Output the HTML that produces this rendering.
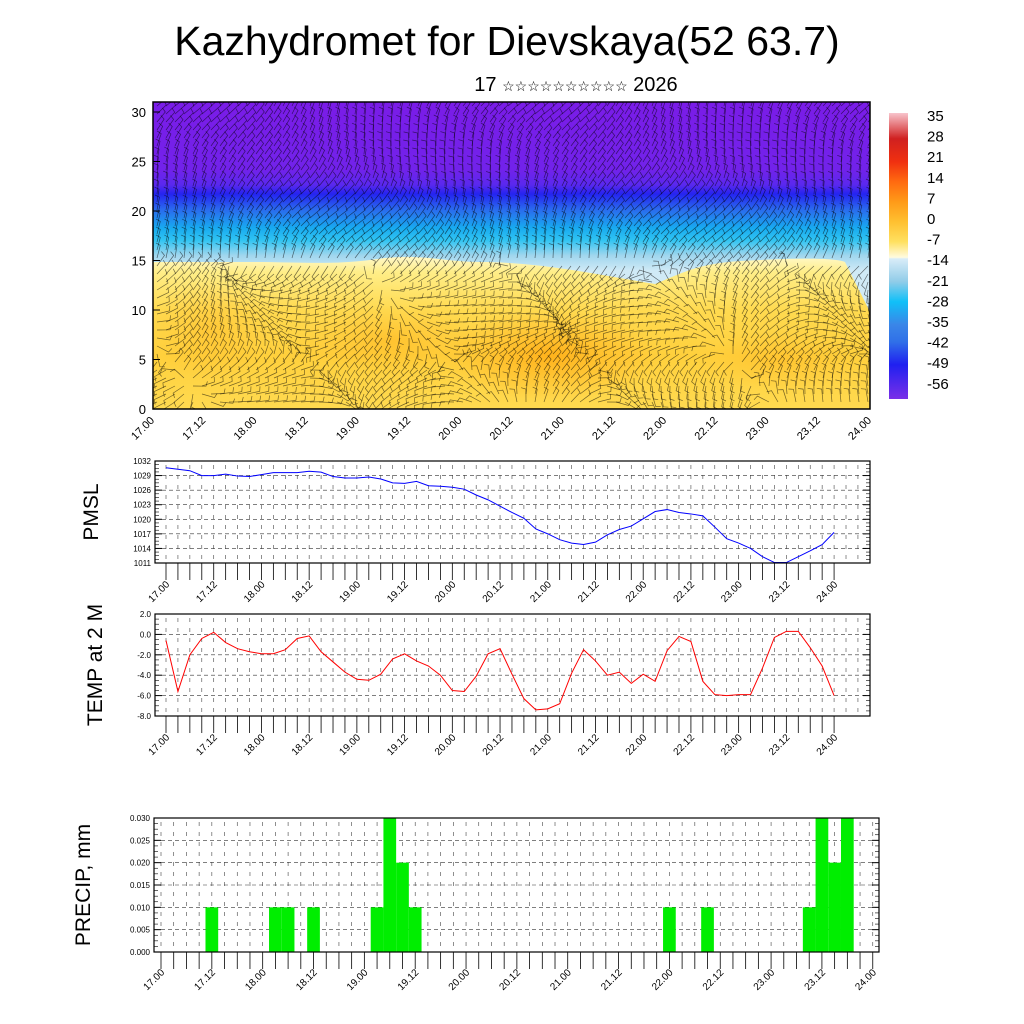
<!DOCTYPE html>
<html><head><meta charset="utf-8"><style>
body{margin:0;background:#fff;}
svg{display:block;font-family:"Liberation Sans",sans-serif;}
</style></head><body>
<svg id="c" width="1024" height="1024" viewBox="0 0 1024 1024">
<defs>
<linearGradient id="gUp" x1="0" y1="0" x2="0" y2="1">
<stop offset="0" stop-color="#7a1ce8"/>
<stop offset="0.22" stop-color="#7222ea"/>
<stop offset="0.27" stop-color="#5a28ee"/>
<stop offset="0.30" stop-color="#2424f0"/>
<stop offset="0.35" stop-color="#2a6aee"/>
<stop offset="0.41" stop-color="#18aaf0"/>
<stop offset="0.45" stop-color="#30c4f2"/>
<stop offset="0.50" stop-color="#a0d6ee"/>
<stop offset="0.55" stop-color="#d0eaf6"/>
<stop offset="1" stop-color="#d0eaf6"/>
</linearGradient>
<linearGradient id="gLo" x1="0" y1="0" x2="0" y2="1">
<stop offset="0" stop-color="#fff8c8"/>
<stop offset="0.1" stop-color="#ffee88"/>
<stop offset="0.35" stop-color="#ffda50"/>
<stop offset="0.65" stop-color="#ffd03c"/>
<stop offset="1" stop-color="#ffda50"/>
</linearGradient>
<radialGradient id="gOr"><stop offset="0" stop-color="#ffa810" stop-opacity="0.75"/><stop offset="1" stop-color="#ffb020" stop-opacity="0"/></radialGradient>
<linearGradient id="gBar" x1="0" y1="0" x2="0" y2="1">
<stop offset="0" stop-color="#f8c4cc"/>
<stop offset="0.09" stop-color="#d02020"/>
<stop offset="0.17" stop-color="#f03010"/>
<stop offset="0.24" stop-color="#ff6a10"/>
<stop offset="0.31" stop-color="#ff9a18"/>
<stop offset="0.38" stop-color="#ffc030"/>
<stop offset="0.45" stop-color="#ffe060"/>
<stop offset="0.505" stop-color="#fffbe0"/>
<stop offset="0.51" stop-color="#d8ecf8"/>
<stop offset="0.59" stop-color="#90cce8"/>
<stop offset="0.66" stop-color="#10c0f8"/>
<stop offset="0.74" stop-color="#3a86e8"/>
<stop offset="0.80" stop-color="#3070e8"/>
<stop offset="0.88" stop-color="#2020f0"/>
<stop offset="1" stop-color="#7a30e8"/>
</linearGradient>
<clipPath id="clipTop"><rect x="153" y="102" width="717" height="307"/></clipPath>
</defs>
<text x="507" y="55" font-size="41" text-anchor="middle">Kazhydromet for Dievskaya(52 63.7)</text>
<text x="576" y="91" font-size="20" text-anchor="middle">17 <tspan font-size="14">☆☆☆☆☆☆☆☆☆☆</tspan> 2026</text>
<g id="top" clip-path="url(#clipTop)">
<rect x="153" y="102" width="717" height="307" fill="url(#gUp)"/>
<path d="M153,262 L250,262 C300,262 330,265 370,260 C420,252 440,262 480,262 C540,262 600,275 655,284 C690,270 700,262 760,260 C800,258 835,258 845,262 L870,312 L870,409 L153,409 Z" fill="url(#gLo)"/>
<ellipse cx="550" cy="355" rx="110" ry="45" fill="url(#gOr)"/>
<ellipse cx="390" cy="340" rx="90" ry="35" fill="url(#gOr)" opacity="0.5"/>
<ellipse cx="210" cy="330" rx="60" ry="50" fill="url(#gOr)" opacity="0.4"/>
<ellipse cx="780" cy="360" rx="80" ry="30" fill="url(#gOr)" opacity="0.4"/>
<g id="barbs" stroke="#000" stroke-opacity="0.55" stroke-width="0.7" fill="none"></g>
</g>
<rect x="153" y="102" width="717" height="307" fill="none" stroke="#000" stroke-width="1.5"/>
<g id="topAxes"></g>
<rect x="889" y="113" width="19" height="286" fill="url(#gBar)"/>
<g id="cbLabels"></g>
<g id="pmsl"></g>
<g id="temp"></g>
<g id="precip"></g>
</svg>
<script>
// ---- data ----
const timeLabels=["17.00","17.12","18.00","18.12","19.00","19.12","20.00","20.12","21.00","21.12","22.00","22.12","23.00","23.12","24.00"];
const pmslTicks=[1011,1014,1017,1020,1023,1026,1029,1032];
const pmslValues=[1030.6,1030.3,1030,1029,1029,1029.3,1028.9,1028.8,1029.2,1029.6,1029.6,1029.6,1029.9,1029.7,1028.8,1028.5,1028.5,1028.7,1028.3,1027.5,1027.4,1027.8,1026.9,1026.8,1026.6,1026.2,1025,1024,1022.7,1021.4,1020.2,1018,1017,1015.8,1015.1,1014.8,1015.3,1016.8,1017.9,1018.6,1020.1,1021.6,1022,1021.4,1021.1,1020.7,1018.4,1016,1015.1,1014,1012.3,1011.1,1011.1,1012.3,1013.5,1014.8,1017.3];
const tempTicks=[-8,-6,-4,-2,0,2];
const tempValues=[-0.6,-5.6,-2,-0.4,0.2,-0.8,-1.4,-1.7,-1.9,-1.9,-1.5,-0.4,-0.15,-1.7,-2.7,-3.7,-4.4,-4.5,-3.9,-2.4,-1.9,-2.6,-3.1,-4.0,-5.5,-5.6,-4.1,-1.9,-1.4,-3.9,-6.3,-7.4,-7.3,-6.8,-3.8,-1.5,-2.6,-4.0,-3.7,-4.8,-3.9,-4.6,-1.6,-0.2,-0.7,-4.6,-5.9,-6.0,-5.9,-5.9,-3.3,-0.3,0.3,0.3,-1.3,-3.1,-6.0];
const precipTicks=[0,0.005,0.010,0.015,0.020,0.025,0.030];
const precipIndex=[4,9,10,12,17,18,19,20,40,43,51,52,53,54];
const precipValues=[0.01,0.01,0.01,0.01,0.01,0.03,0.02,0.01,0.01,0.01,0.01,0.03,0.02,0.03];
const heightTicks=[0,5,10,15,20,25,30];
const colorbarLabels=[35,28,21,14,7,0,-7,-14,-21,-28,-35,-42,-49,-56];

const NS="http://www.w3.org/2000/svg";
function mk(parent,tag,attrs){const e=document.createElementNS(NS,tag);for(const k in attrs)e.setAttribute(k,attrs[k]);parent.appendChild(e);return e;}

// ---- top panel barbs (decorative wind field) ----
const barbs=document.getElementById('barbs');
for(let y=106;y<409;y+=8){for(let x=157;x<870;x+=9){
  const h=(409-y)/9.9;
  let a;
  if(h>15) a=1.15+0.35*Math.sin(x/55+h/4)+0.15*Math.cos(h/2);
  else a=Math.atan2(Math.sin(x/60)*Math.cos(h/3),Math.cos(x/45+h/5))+0.9;
  const L=13,dx=Math.cos(a)*L,dy=Math.sin(a)*L;
  const x2=x+dx,y2=y-dy;
  const p=mk(barbs,'path',{d:`M${x.toFixed(1)},${y.toFixed(1)}L${x2.toFixed(1)},${y2.toFixed(1)}l${(Math.cos(a+1.3)*5).toFixed(1)},${(-Math.sin(a+1.3)*5).toFixed(1)}`});
  
  
}}
// top axes
const ta=document.getElementById('topAxes');
const topX=i=>153+i*(717/14), topY=v=>409-v*9.9;
heightTicks.forEach(v=>{
  mk(ta,'line',{x1:153,x2:160,y1:topY(v),y2:topY(v),stroke:'#000'});
  const t=mk(ta,'text',{x:146,y:topY(v)+5,'font-size':13,'text-anchor':'end'});t.textContent=v;
  
  
});
timeLabels.forEach((s,i)=>{
  const x=topX(i);
  const t=mk(ta,'text',{x:x+2,y:421,'font-size':11,'text-anchor':'end',transform:`rotate(-45 ${x+2} 421)`});t.textContent=s;
  
  
});
const cb=document.getElementById('cbLabels');
colorbarLabels.forEach((v,i)=>{
  const t=mk(cb,'text',{x:927,y:121+i*20.6,'font-size':15});t.textContent=v;
  
  
});

// ---- generic line/bar panel ----
function panel(g,o){
  const {x0,x1,y0,y1,vmin,vmax,ticks,fmt,t0,dt,title,titleX,labY}=o;
  const Y=v=>y1-(v-vmin)/(vmax-vmin)*(y1-y0);
  const X=i=>t0+i*dt;
  for(let i=-1;i*dt+t0<x1;i++){
    const x=X(i); if(x<=x0)continue;
    mk(g,'line',{x1:x,x2:x,y1:y0+4,y2:y1,stroke:'#444','stroke-width':0.6,'stroke-dasharray':'4 6'});
    if(i>=0&&i<=56) mk(g,'line',{x1:x,x2:x,y1:y1,y2:y1+17,stroke:'#000','stroke-width':0.8});
  }
  ticks.forEach(v=>{
    const y=Y(v);
    mk(g,'line',{x1:x0,x2:x1,y1:y,y2:y,stroke:'#333','stroke-width':0.6,'stroke-dasharray':'4 3'});
    mk(g,'line',{x1:x0,x2:x0+7,y1:y,y2:y,stroke:'#000'});
    mk(g,'line',{x1:x1-7,x2:x1,y1:y,y2:y,stroke:'#000'});
    const t=mk(g,'text',{x:x0-4,y:y+3,'font-size':8,'text-anchor':'end'});t.textContent=fmt(v);
    
    
  });
  for(let k=0;k<ticks.length-1;k++){const a=Y(ticks[k]),b=Y(ticks[k+1]);for(let m=1;m<4;m++){const y=a+(b-a)*m/4;
    mk(g,'line',{x1:x0,x2:x0+4,y1:y,y2:y,stroke:'#000','stroke-width':0.6});
    mk(g,'line',{x1:x1-4,x2:x1,y1:y,y2:y,stroke:'#000','stroke-width':0.6});}}
  timeLabels.forEach((s,i)=>{
    const x=X(i*4)+4;
    const t=mk(g,'text',{x:x,y:labY,'font-size':10,'text-anchor':'end',transform:`rotate(-45 ${x} ${labY})`});t.textContent=s;
    
    
  });
  const tt=mk(g,'text',{x:titleX,y:(y0+y1)/2,'font-size':21,'text-anchor':'middle',transform:`rotate(-90 ${titleX} ${(y0+y1)/2})`});tt.textContent=title;
  
  
  return {X,Y};
}
function frame(g,x0,x1,y0,y1){const r=mk(g,'rect',{x:x0,y:y0,width:x1-x0,height:y1-y0,fill:'none',stroke:'#000','stroke-width':1.2});
  
  }

// PMSL
{const g=document.getElementById('pmsl');
 const o={x0:155,x1:870,y0:461,y1:563,vmin:1011,vmax:1032,ticks:pmslTicks,fmt:v=>v,t0:166,dt:11.93,title:'PMSL',titleX:98,labY:585};
 const {X,Y}=panel(g,o);
 const p=mk(g,'polyline',{points:pmslValues.map((v,i)=>X(i)+','+Y(v)).join(' '),fill:'none',stroke:'#0000ff','stroke-width':1});
 
 
 frame(g,155,870,461,563);}
// TEMP
{const g=document.getElementById('temp');
 const o={x0:155,x1:870,y0:614,y1:716,vmin:-8,vmax:2,ticks:tempTicks,fmt:v=>v.toFixed(1),t0:166,dt:11.93,title:'TEMP at 2 M',titleX:102,labY:738};
 const {X,Y}=panel(g,o);
 const p=mk(g,'polyline',{points:tempValues.map((v,i)=>X(i)+','+Y(v)).join(' '),fill:'none',stroke:'#ff0000','stroke-width':1});
 
 
 frame(g,155,870,614,716);}
// PRECIP
{const g=document.getElementById('precip');
 const o={x0:154,x1:879,y0:818,y1:952,vmin:0,vmax:0.03,ticks:precipTicks,fmt:v=>v.toFixed(3),t0:161,dt:12.71,title:'PRECIP, mm',titleX:90,labY:973};
 const {X,Y}=panel(g,o);
 precipIndex.forEach((idx,k)=>{
   const r=mk(g,'rect',{x:X(idx)-o.dt/2,y:Y(precipValues[k]),width:o.dt,height:Y(0)-Y(precipValues[k]),fill:'#00ee00'});
   
   
 });
 frame(g,154,879,818,952);}
</script>
</body></html>
